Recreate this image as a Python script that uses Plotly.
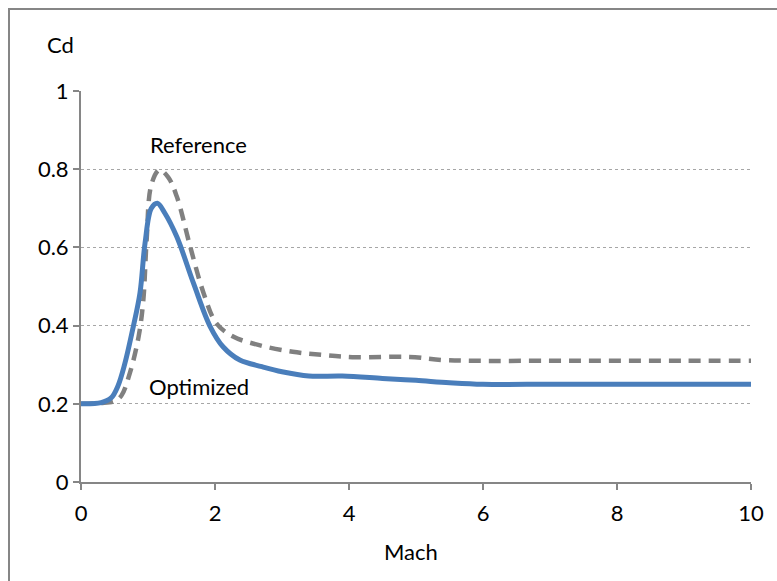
import plotly.graph_objects as go

# Drag coefficient vs Mach number
opt_mach = [0, 0.3, 0.45, 0.55, 0.65, 0.78, 0.88, 0.955, 1.05, 1.14, 1.25, 1.43, 1.68, 1.93, 2.12, 2.37, 2.7, 3.0, 3.4, 3.9, 4.5, 5.0, 5.5, 6.0, 7, 8, 9, 10]
opt_cd = [0.2, 0.203, 0.215, 0.245, 0.3, 0.397, 0.483, 0.61, 0.7, 0.713, 0.688, 0.627, 0.508, 0.397, 0.346, 0.312, 0.295, 0.282, 0.271, 0.271, 0.265, 0.26, 0.254, 0.25, 0.25, 0.25, 0.25, 0.25]

ref_mach = [0, 0.3, 0.5, 0.6, 0.73, 0.86, 0.93, 0.98, 1.05, 1.17, 1.3, 1.43, 1.63, 1.83, 2.02, 2.27, 2.66, 3.16, 3.6, 4.1, 4.9, 5.4, 5.9, 7, 8, 9, 10]
ref_cd = [0.2, 0.202, 0.207, 0.22, 0.279, 0.372, 0.465, 0.62, 0.76, 0.798, 0.78, 0.73, 0.602, 0.483, 0.406, 0.372, 0.35, 0.333, 0.325, 0.319, 0.32, 0.312, 0.31, 0.31, 0.31, 0.31, 0.31]

x_ticks = [0, 2, 4, 6, 8, 10]
y_ticks = [0, 0.2, 0.4, 0.6, 0.8, 1]
y_tick_text = ["0", "0.2", "0.4", "0.6", "0.8", "1"]

FONT = dict(family="Lato, Open Sans, sans-serif", size=22, color="black")
AXIS_GREY = "#868686"

fig = go.Figure()
fig.add_trace(go.Scatter(
    x=ref_mach, y=ref_cd, mode="lines", name="Reference",
    line=dict(color="#808080", width=4.5, dash="12px,8px", shape="spline", smoothing=1.0),
))
fig.add_trace(go.Scatter(
    x=opt_mach, y=opt_cd, mode="lines", name="Optimized",
    line=dict(color="#4a7ebb", width=5, shape="spline", smoothing=1.0),
))

W, H = 777, 581
L, R, T, B = 81, 26, 91, 99
pw, ph = W - L - R, H - T - B


def px(x):
    return (x - L) / pw


def py(y):
    return (H - B - y) / ph


fig.update_layout(
    width=W, height=H,
    margin=dict(l=L, r=R, t=T, b=B),
    paper_bgcolor="white", plot_bgcolor="white",
    showlegend=False,
    font=FONT,
    xaxis=dict(
        range=[0, 10], tickvals=x_ticks, ticktext=[str(v) for v in x_ticks],
        showline=True, linecolor=AXIS_GREY, linewidth=2,
        ticks="outside", ticklen=6, tickwidth=2, tickcolor=AXIS_GREY,
        ticklabelstandoff=5,
        showgrid=False, zeroline=False, tickfont=FONT,
    ),
    yaxis=dict(
        range=[0, 1], tickvals=y_ticks, ticktext=y_tick_text,
        showline=True, linecolor=AXIS_GREY, linewidth=2,
        ticks="outside", ticklen=6, tickwidth=2, tickcolor=AXIS_GREY,
        showgrid=True, gridcolor="#a6a6a6", gridwidth=1, griddash="dot",
        zeroline=False, tickfont=FONT,
    ),
    shapes=[dict(
        type="rect", xref="paper", yref="paper",
        x0=px(9), x1=px(800), y0=py(620), y1=py(9),
        line=dict(color=AXIS_GREY, width=2), fillcolor="rgba(0,0,0,0)", layer="below",
    )],
    annotations=[
        dict(text="Cd", xref="paper", yref="paper", x=px(60), y=py(45),
             showarrow=False, font=FONT, xanchor="center", yanchor="middle"),
        dict(text="Mach", xref="paper", yref="paper", x=px(411), y=py(551),
             showarrow=False, font=FONT, xanchor="center", yanchor="middle"),
        dict(text="Reference", xref="x", yref="y", x=1.76, y=0.864,
             showarrow=False, font=FONT, xanchor="center", yanchor="middle"),
        dict(text="Optimized", xref="x", yref="y", x=1.76, y=0.245,
             showarrow=False, font=FONT, xanchor="center", yanchor="middle"),
    ],
)

fig.write_html("out.html")
